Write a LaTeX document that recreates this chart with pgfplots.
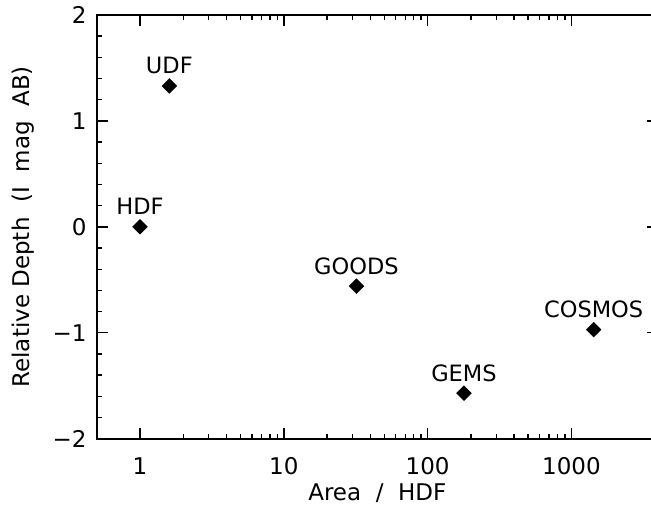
\documentclass[border=0pt]{standalone}
\usepackage{pgfplots}
\pgfplotsset{compat=1.18}
\usepackage{fontspec}
\setmainfont{DejaVu Sans}
\newcommand{\tickfont}{\fontsize{23bp}{27bp}\selectfont}
\newcommand{\ptfont}{\fontsize{22.5bp}{26bp}\selectfont}

\pgfplotstableread{
x      y      name
1      0      HDF
1.60   1.33   UDF
32     -0.56  GOODS
179    -1.57  GEMS
1428   -0.97  COSMOS
}\surveys

\begin{document}
\begin{tikzpicture}
\begin{axis}[
    name=ax,
    xmode=log,
    scale only axis,
    width=561.3bp, height=423.7bp,
    xmin=0.5, xmax=4000,
    ymin=-2, ymax=2,
    xtick={1,10,100,1000},
    xticklabels={1,10,100,1000},
    ytick={-2,-1,0,1,2},
    yticklabels={−2,−1,0,1,2},
    minor y tick num=4,
    major tick length=11bp,
    minor tick length=5bp,
    tick style={line width=1.4bp, black},
    axis line style={line width=1.8bp},
    xticklabel style={font=\tickfont, anchor=north, inner sep=0pt, yshift=-19bp},
    yticklabel style={font=\tickfont, anchor=east, inner sep=0pt, xshift=-10bp},
    log ticks with fixed point,
    clip=false,
]
\addplot[only marks, mark=square*, mark size=5.3bp,
    mark options={rotate=45, fill=black, draw=black, line width=0.2bp},
    nodes near coords, point meta=explicit symbolic,
    every node near coord/.append style={anchor=base, inner sep=0pt,
        yshift=12bp, font=\ptfont, black}]
    table[x=x, y=y, meta=name] {\surveys};

\node[font=\tickfont, anchor=north, inner sep=0pt]
    at ([yshift=-45bp]rel axis cs:0.5,0) {Area\ \ /\ \ HDF};
\node[font=\tickfont, rotate=90, anchor=south, inner sep=0pt]
    at ([xshift=-62bp]rel axis cs:0,0.5) {Relative\ Depth\ \ (I\ \ mag\ \ AB)};
\end{axis}
\pgfresetboundingbox
\path ([shift={(-96.7bp,-68.3bp)}]ax.south west) rectangle ([shift={(-7bp,15bp)}]ax.north east);
\end{tikzpicture}
\end{document}
